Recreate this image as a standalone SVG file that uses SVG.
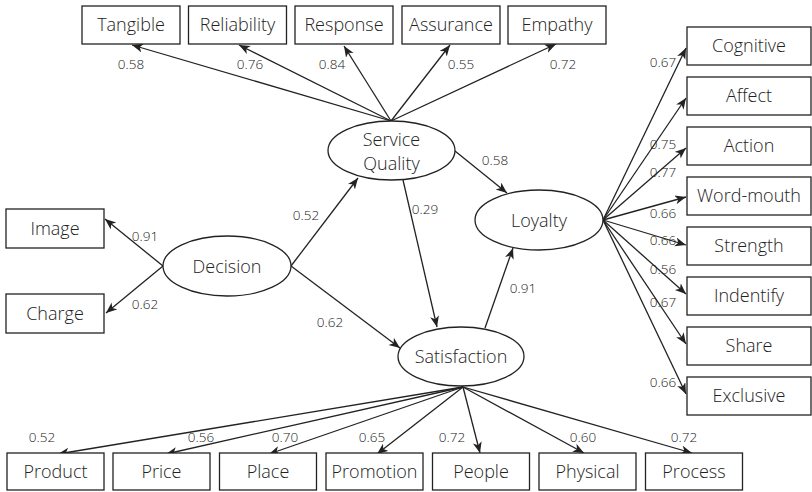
<svg xmlns="http://www.w3.org/2000/svg" width="812" height="492" viewBox="0 0 812 492">
<style>
  .box{fill:#fff;stroke:#222;stroke-width:1.3}
  .ell{fill:#fff;stroke:#222;stroke-width:1.3}
  .t{font-family:"Open Sans","Noto Sans","Liberation Sans",sans-serif;font-weight:300;font-size:18px;fill:#222;text-anchor:middle}
  .n{font-family:"Open Sans","Noto Sans","Liberation Sans",sans-serif;font-weight:300;font-size:13.5px;fill:#222;text-anchor:middle}
  .c line{stroke:#222;stroke-width:1.3;marker-end:url(#ah)}
</style>
<defs>
  <marker id="ah" markerUnits="userSpaceOnUse" markerWidth="12" markerHeight="10" refX="11" refY="4.5" orient="auto">
    <path d="M0,0 L11,4.5 L0,9 L3,4.5 Z" fill="#222"/>
  </marker>
</defs>
<rect width="812" height="492" fill="#fff"/>
<g class="c" id="connectors">
  <line x1="391" y1="121" x2="132" y2="45"/>
  <line x1="391" y1="121" x2="239" y2="45"/>
  <line x1="391" y1="121" x2="344" y2="46"/>
  <line x1="391" y1="121" x2="450" y2="45"/>
  <line x1="391" y1="121" x2="556" y2="44"/>
  <line x1="163" y1="266" x2="105" y2="219"/>
  <line x1="163" y1="266" x2="106" y2="313"/>
  <line x1="291" y1="266" x2="358" y2="178"/>
  <line x1="291" y1="266" x2="400" y2="348"/>
  <line x1="455" y1="151" x2="507" y2="193"/>
  <line x1="403" y1="180" x2="437" y2="327"/>
  <line x1="485" y1="328" x2="513" y2="248"/>
  <line x1="603" y1="220" x2="686" y2="48"/>
  <line x1="603" y1="220" x2="686" y2="98"/>
  <line x1="603" y1="220" x2="686" y2="148"/>
  <line x1="603" y1="220" x2="686" y2="197"/>
  <line x1="603" y1="220" x2="686" y2="245"/>
  <line x1="603" y1="220" x2="686" y2="294"/>
  <line x1="603" y1="220" x2="686" y2="344"/>
  <line x1="603" y1="220" x2="686" y2="394"/>
  <line x1="463" y1="387" x2="58" y2="454"/>
  <line x1="463" y1="387" x2="166" y2="454"/>
  <line x1="463" y1="387" x2="269" y2="454"/>
  <line x1="463" y1="387" x2="377" y2="454"/>
  <line x1="463" y1="387" x2="480" y2="453"/>
  <line x1="463" y1="387" x2="584" y2="453"/>
  <line x1="463" y1="387" x2="692" y2="453"/>
</g>
<g id="labels">
  <text class="n" x="131" y="69">0.58</text>
  <text class="n" x="250" y="69">0.76</text>
  <text class="n" x="332" y="69">0.84</text>
  <text class="n" x="461" y="69">0.55</text>
  <text class="n" x="563" y="69">0.72</text>
  <text class="n" x="145" y="241">0.91</text>
  <text class="n" x="145" y="309">0.62</text>
  <text class="n" x="306" y="220">0.52</text>
  <text class="n" x="330" y="327">0.62</text>
  <text class="n" x="495" y="165">0.58</text>
  <text class="n" x="425" y="214">0.29</text>
  <text class="n" x="523" y="293">0.91</text>
  <text class="n" x="663" y="67">0.67</text>
  <text class="n" x="663" y="149">0.75</text>
  <text class="n" x="663" y="177">0.77</text>
  <text class="n" x="663" y="218">0.66</text>
  <text class="n" x="663" y="245">0.66</text>
  <text class="n" x="663" y="274">0.56</text>
  <text class="n" x="663" y="307">0.67</text>
  <text class="n" x="663" y="387">0.66</text>
  <text class="n" x="42" y="442">0.52</text>
  <text class="n" x="201" y="442">0.56</text>
  <text class="n" x="285" y="442">0.70</text>
  <text class="n" x="372" y="442">0.65</text>
  <text class="n" x="452" y="442">0.72</text>
  <text class="n" x="583" y="442">0.60</text>
  <text class="n" x="684" y="442">0.72</text>
</g>
<g id="n-tangible"><rect class="box" x="82" y="6" width="98" height="38"/><text class="t" x="131" y="31">Tangible</text></g>
<g id="n-reliability"><rect class="box" x="188.5" y="6" width="98" height="38"/><text class="t" x="237.5" y="31">Reliability</text></g>
<g id="n-response"><rect class="box" x="295" y="6" width="98" height="38"/><text class="t" x="344" y="31">Response</text></g>
<g id="n-assurance"><rect class="box" x="402" y="6" width="98" height="38"/><text class="t" x="451" y="31">Assurance</text></g>
<g id="n-empathy"><rect class="box" x="508" y="6" width="98" height="38"/><text class="t" x="557" y="31">Empathy</text></g>
<g id="n-service"><ellipse class="ell" cx="391.5" cy="150.5" rx="63.5" ry="29.5"/><text class="t" x="391.5" y="146">Service</text><text class="t" x="391.5" y="170">Quality</text></g>
<g id="n-loyalty"><ellipse class="ell" cx="539" cy="220" rx="64" ry="30"/><text class="t" x="539" y="227">Loyalty</text></g>
<g id="n-decision"><ellipse class="ell" cx="227" cy="266" rx="64" ry="30"/><text class="t" x="227" y="273">Decision</text></g>
<g id="n-satisfaction"><ellipse class="ell" cx="461" cy="356.5" rx="63" ry="29.5"/><text class="t" x="461" y="363">Satisfaction</text></g>
<g id="n-image"><rect class="box" x="6" y="209" width="98" height="39"/><text class="t" x="55" y="235">Image</text></g>
<g id="n-charge"><rect class="box" x="6" y="294" width="98" height="39"/><text class="t" x="55" y="320">Charge</text></g>
<g id="n-cognitive"><rect class="box" x="687" y="27" width="124" height="38"/><text class="t" x="749" y="52">Cognitive</text></g>
<g id="n-affect"><rect class="box" x="687" y="77" width="124" height="38"/><text class="t" x="749" y="102">Affect</text></g>
<g id="n-action"><rect class="box" x="687" y="127" width="124" height="38"/><text class="t" x="749" y="152">Action</text></g>
<g id="n-wordmouth"><rect class="box" x="687" y="177" width="124" height="38"/><text class="t" x="749" y="202">Word-mouth</text></g>
<g id="n-strength"><rect class="box" x="687" y="227" width="124" height="38"/><text class="t" x="749" y="252">Strength</text></g>
<g id="n-indentify"><rect class="box" x="687" y="277" width="124" height="38"/><text class="t" x="749" y="302">Indentify</text></g>
<g id="n-share"><rect class="box" x="687" y="327" width="124" height="38"/><text class="t" x="749" y="352">Share</text></g>
<g id="n-exclusive"><rect class="box" x="687" y="377" width="124" height="38"/><text class="t" x="749" y="402">Exclusive</text></g>
<g id="n-product"><rect class="box" x="7" y="453" width="97" height="37"/><text class="t" x="55.5" y="478">Product</text></g>
<g id="n-price"><rect class="box" x="113" y="453" width="97" height="37"/><text class="t" x="161.5" y="478">Price</text></g>
<g id="n-place"><rect class="box" x="219.5" y="453" width="97" height="37"/><text class="t" x="268" y="478">Place</text></g>
<g id="n-promotion"><rect class="box" x="326" y="453" width="97" height="37"/><text class="t" x="374.5" y="478">Promotion</text></g>
<g id="n-people"><rect class="box" x="432.5" y="453" width="97" height="37"/><text class="t" x="481" y="478">People</text></g>
<g id="n-physical"><rect class="box" x="539" y="453" width="97" height="37"/><text class="t" x="587.5" y="478">Physical</text></g>
<g id="n-process"><rect class="box" x="645.5" y="453" width="97" height="37"/><text class="t" x="694" y="478">Process</text></g>
</svg>
